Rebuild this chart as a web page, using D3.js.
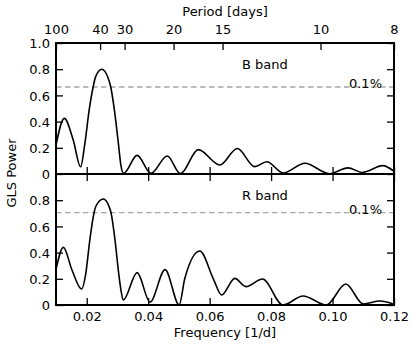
<!DOCTYPE html>
<html><head><meta charset="utf-8">
<script src="https://cdn.jsdelivr.net/npm/d3@7"></script>
<style>body{margin:0;background:#fff}svg{display:block}text{font-family:"DejaVu Sans",sans-serif}</style>
</head><body><svg id="c" width="415" height="347"></svg>
<script>
// Data (frequency [1/d], GLS power)
const freqB = [0.0100,0.0127,0.0156,0.0180,0.0194,0.0208,0.0221,0.0229,0.0249,0.0268,0.0278,0.0290,0.0303,0.0311,0.0320,0.0364,0.0409,0.0462,0.0505,0.0563,0.0633,0.0690,0.0747,0.0786,0.0839,0.0910,0.0990,0.1050,0.1097,0.1164,0.1200];
const powB  = [0.22,0.425,0.26,0.055,0.234,0.489,0.666,0.743,0.80,0.743,0.666,0.489,0.234,0.07,0.005,0.142,0.005,0.137,0.003,0.186,0.069,0.195,0.056,0.094,0.008,0.082,0.002,0.047,0.012,0.064,0.020];
const freqR = [0.0100,0.0124,0.0152,0.0183,0.0197,0.0210,0.0224,0.0229,0.0254,0.0273,0.0279,0.0292,0.0304,0.0311,0.0319,0.0364,0.0406,0.0455,0.0501,0.0519,0.0568,0.0612,0.0639,0.0682,0.0718,0.0772,0.0839,0.0904,0.0980,0.1043,0.1100,0.1154,0.1200];
const powR  = [0.27,0.44,0.267,0.122,0.242,0.496,0.705,0.75,0.809,0.75,0.705,0.496,0.242,0.12,0.038,0.247,0.022,0.27,0.0,0.20,0.412,0.20,0.076,0.203,0.14,0.198,0.0,0.069,0.0,0.16,0.008,0.03,0.005];
const thresholds = [0.664, 0.705];
const bandLabels = ["B band", "R band"];
const freqTicks = [0.02,0.04,0.06,0.08,0.10,0.12];
const powTicksTop = [0,0.2,0.4,0.6,0.8,1.0];
const powTicksBot = [0,0.2,0.4,0.6,0.8];
const periodTicks = [100,40,30,20,15,10,8];

const svg = d3.select("#c");
const L=56, R=394, T1=43, B1=174, T2=174, B2=305;
const x = d3.scaleLinear().domain([0.01,0.12]).range([L,R]);
const xp = d3.scaleLinear().domain([1/100,1/8]).range([L,R]);
const y1 = d3.scaleLinear().domain([0,1]).range([B1,T1]);
const y2 = d3.scaleLinear().domain([0,1]).range([B2,T2]);
const fmtY = v => v===0 ? "0" : d3.format(".1f")(v);
const FS = "13px";

function style(g){
  g.select(".domain").remove();
  g.selectAll(".tick line").attr("stroke","#000").attr("stroke-width",1.3);
  g.selectAll("text").attr("fill","#000").style("font-size",FS).style("font-family","DejaVu Sans");
  g.attr("font-family",null);
}

svg.append("defs").selectAll("clipPath").data([[T1,B1],[T2,B2]]).join("clipPath")
  .attr("id",(d,i)=>"clip"+i).append("rect")
  .attr("x",L).attr("y",d=>d[0]).attr("width",R-L).attr("height",d=>d[1]-d[0]);

const panels = [
  {y:y1, f:freqB, p:powB, top:T1, bot:B1, ticks:powTicksTop},
  {y:y2, f:freqR, p:powR, top:T2, bot:B2, ticks:powTicksBot}
];

panels.forEach((P,i)=>{
  const g = svg.append("g");
  // threshold
  g.append("line").attr("x1",L).attr("x2",R)
    .attr("y1",P.y(thresholds[i])).attr("y2",P.y(thresholds[i]))
    .attr("stroke","#a6a6a6").attr("stroke-width",1.3).attr("stroke-dasharray","5.5,3.5");
  g.append("text").attr("x",382).attr("y",P.y(thresholds[i])+1).attr("text-anchor","end")
    .style("font-size",FS).text("0.1%");
  g.append("text").attr("x",242).attr("y",P.top+25.5).style("font-size",FS).text(bandLabels[i]);
  // curve
  const pts = P.f.map((f,k)=>[f,P.p[k]]);
  g.append("path").datum(pts).attr("clip-path","url(#clip"+i+")")
    .attr("fill","none").attr("stroke","#000").attr("stroke-width",1.6)
    .attr("d", d3.line().x(d=>x(d[0])).y(d=>P.y(d[1])).curve(d3.curveMonotoneX));
  // left axis
  g.append("g").attr("transform",`translate(${L},0)`)
    .call(d3.axisLeft(P.y).tickValues(P.ticks).tickFormat(fmtY).tickSize(-7).tickSizeOuter(0).tickPadding(6))
    .call(style).selectAll("text").attr("dy","0.36em");
  // right axis
  g.append("g").attr("transform",`translate(${R},0)`)
    .call(d3.axisRight(P.y).tickValues(P.ticks).tickFormat("").tickSize(-7).tickSizeOuter(0))
    .call(style);
  // bottom ticks
  g.append("g").attr("transform",`translate(0,${P.bot})`)
    .call(d3.axisBottom(x).tickValues(freqTicks).tickFormat(i===1 ? d3.format(".2f") : "").tickSize(-7).tickSizeOuter(0).tickPadding(7))
    .call(style);
  // top ticks
  if(i===0){
    g.append("g").attr("transform",`translate(0,${P.top})`)
      .call(d3.axisTop(xp).tickValues(periodTicks.map(p=>1/p)).tickFormat(v=>String(Math.round(1/v))).tickSize(-7).tickSizeOuter(0).tickPadding(9))
      .call(style);
  } else {
    g.append("g").attr("transform",`translate(0,${P.top})`)
      .call(d3.axisTop(x).tickValues(freqTicks).tickFormat("").tickSize(-7).tickSizeOuter(0))
      .call(style);
  }
  // spines
  g.append("rect").attr("x",L).attr("y",P.top).attr("width",R-L).attr("height",P.bot-P.top)
    .attr("fill","none").attr("stroke","#000").attr("stroke-width",2);
});

svg.append("text").attr("x",(L+R)/2).attr("y",16).attr("text-anchor","middle").style("font-size",FS).text("Period [days]");
svg.append("text").attr("x",(L+R)/2).attr("y",337).attr("text-anchor","middle").style("font-size",FS).text("Frequency [1/d]");
svg.append("text").attr("transform","translate(16,173) rotate(-90)").attr("text-anchor","middle").style("font-size",FS).text("GLS Power");
</script></body></html>
